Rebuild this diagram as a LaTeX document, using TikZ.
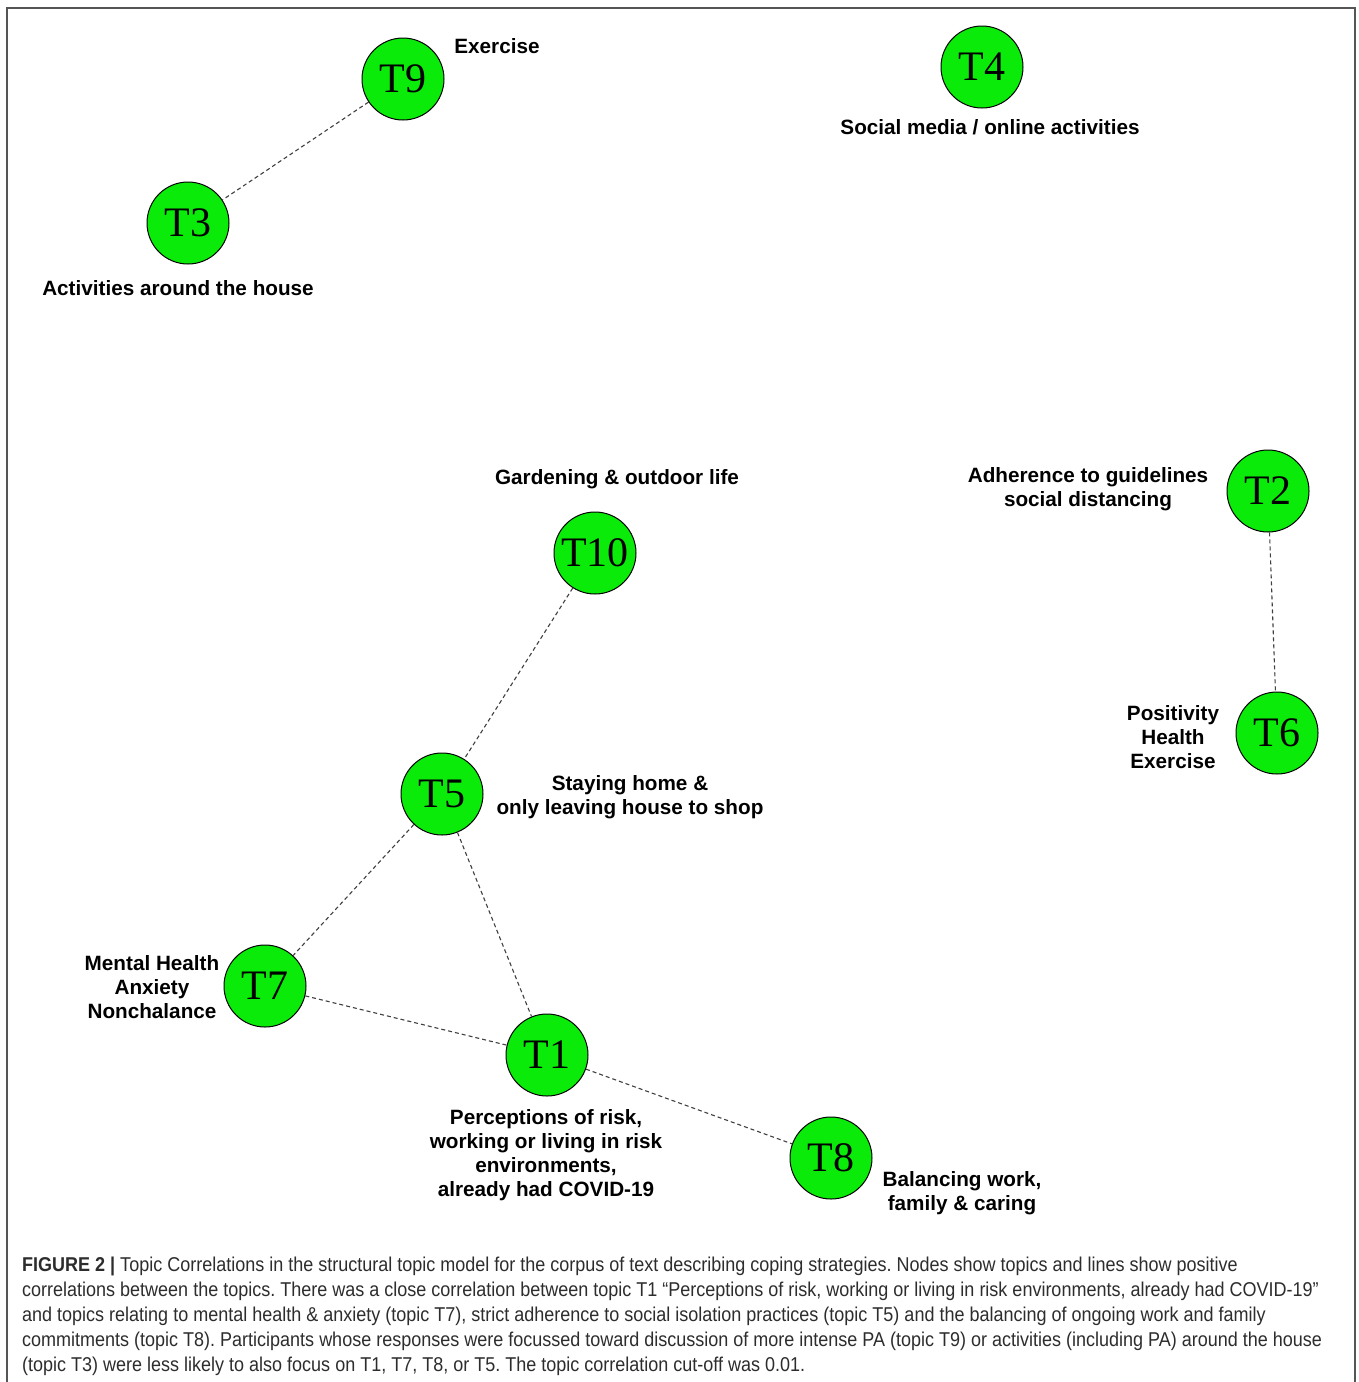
\documentclass[tikz,border=0pt]{standalone}
\usepackage{fontspec}
\setmainfont{Liberation Sans}
\newfontfamily\lblfont{Liberation Sans}
\newfontfamily\capfont[FakeStretch=0.9]{Liberation Sans}
\newfontfamily\topicfont{Liberation Serif}
\definecolor{nodegreen}{RGB}{10,235,10}
\definecolor{framegray}{RGB}{85,85,85}
\definecolor{captext}{RGB}{45,45,45}
\frenchspacing
\tikzset{
  topic/.style={circle, draw=black, line width=1pt, fill=nodegreen, minimum size=82pt, inner sep=0pt, font=\topicfont\fontsize{42}{42}\selectfont},
  lbl/.style={align=center, inner sep=0pt, font=\lblfont\bfseries\fontsize{20.7}{24}\selectfont},
  corr/.style={draw=black!75, line width=1.1pt, dash pattern=on 4pt off 3pt},
  capline/.style={anchor=base west, inner sep=0pt, text=captext, font=\capfont\fontsize{20}{25}\selectfont}
}
\begin{document}
\begin{tikzpicture}[x=1pt,y=-1pt]
\useasboundingbox (0,0) rectangle (1358,1382);
\fill[white] (0,0) rectangle (1358,1382);
\draw[framegray, line width=1.5pt] (7,1382) -- (7,8) -- (1355,8) -- (1355,1382);

% topic nodes
\node[topic] (T9) at (403,79) {T9};
\node[topic] (T3) at (188,223) {T3};
\node[topic] (T4) at (982,67) {T4};
\node[topic] (T2) at (1268,491) {T2};
\node[topic] (T10) at (595,553) {T10};
\node[topic] (T6) at (1277,733) {T6};
\node[topic] (T5) at (442,794) {T5};
\node[topic] (T7) at (265,986) {T7};
\node[topic] (T1) at (547,1055) {T1};
\node[topic] (T8) at (831,1158) {T8};

% correlations
\draw[corr] (T9) -- (T3);
\draw[corr] (T10) -- (T5);
\draw[corr] (T5) -- (T7);
\draw[corr] (T5) -- (T1);
\draw[corr] (T7) -- (T1);
\draw[corr] (T1) -- (T8);
\draw[corr] (T2) -- (T6);

% labels
\node[lbl] (L9) at (497,46) {Exercise};
\node[lbl] (L4) at (990,127) {Social media / online activities};
\node[lbl] (L3) at (178,288) {Activities around the house};
\node[lbl] (L10) at (617,479) {Gardening \& outdoor life};
\node[lbl] (L2) at (1088,489) {Adherence to guidelines\\social distancing};
\node[lbl] (L6) at (1173,737) {Positivity\\Health\\Exercise};
\node[lbl] (L5) at (630,797) {Staying home \&\\only leaving house to shop};
\node[lbl] (L7) at (152,987) {Mental Health\\Anxiety\\Nonchalance};
\node[lbl] (L1) at (546,1155) {Perceptions of risk,\\working or living in risk\\environments,\\already had COVID-19};
\node[lbl] (L8) at (962,1193) {Balancing work,\\family \& caring};

% caption
\node[capline] (C1) at (22,1271) {\textbf{FIGURE 2 |} Topic Correlations in the structural topic model for the corpus of text describing coping strategies. Nodes show topics and lines show positive};
\node[capline] (C2) at (22,1296) {correlations between the topics. There was a close correlation between topic T1 “Perceptions of risk, working or living in risk environments, already had COVID-19”};
\node[capline] (C3) at (22,1321) {and topics relating to mental health \& anxiety (topic T7), strict adherence to social isolation practices (topic T5) and the balancing of ongoing work and family};
\node[capline] (C4) at (22,1346) {commitments (topic T8). Participants whose responses were focussed toward discussion of more intense PA (topic T9) or activities (including PA) around the house};
\node[capline] (C5) at (22,1371) {(topic T3) were less likely to also focus on T1, T7, T8, or T5. The topic correlation cut-off was 0.01.};
\end{tikzpicture}
\end{document}
